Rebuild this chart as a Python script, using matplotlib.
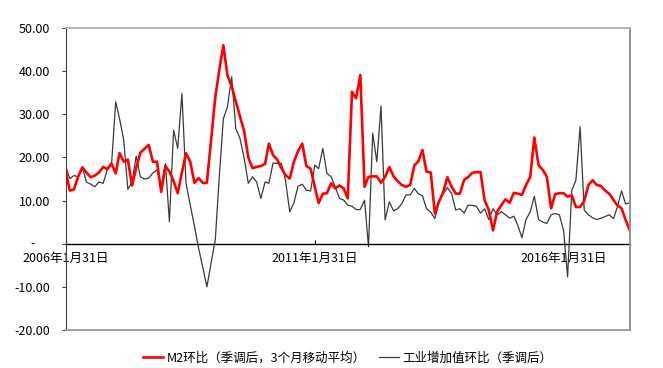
import matplotlib
matplotlib.use("Agg")
import matplotlib.pyplot as plt
import matplotlib.dates as mdates
import matplotlib.transforms as mtransforms
import numpy as np
import pandas as pd

plt.rcParams['font.family'] = ['Noto Sans CJK SC', 'DejaVu Sans']

# -----------------------------
# DATA (monthly, month-end)
# -----------------------------
dates = pd.date_range("2006-01-31", periods=137, freq="ME")

m2_mom = [
    16.5, 12.3, 12.6, 15.5, 17.7, 16.5, 15.4, 15.8, 16.5, 17.8,
    17.3, 18.6, 16.3, 21.0, 19.0, 19.5, 13.5, 17.5, 21.1, 22.0,
    22.9, 19.0, 19.0, 12.0, 18.0, 16.7, 14.5, 11.7, 16.5, 21.0,
    19.0, 14.1, 15.2, 14.1, 14.1, 24.0, 34.0, 40.0, 46.0, 39.0,
    36.5, 33.0, 29.5, 26.0, 20.0, 17.5, 17.8, 18.0, 18.5, 23.2,
    20.5, 19.5, 17.5, 15.9, 15.1, 19.0, 21.5, 23.2, 18.0, 17.4,
    13.2, 9.4, 11.6, 11.7, 14.0, 12.8, 13.5, 12.8, 10.5, 35.2,
    33.7, 39.1, 13.2, 15.5, 15.6, 15.6, 14.1, 15.5, 17.8, 15.6,
    14.5, 13.6, 13.2, 13.6, 18.2, 19.0, 21.7, 16.7, 16.5, 7.0,
    9.8, 12.0, 15.4, 13.2, 11.6, 11.6, 14.8, 15.4, 16.4, 16.6,
    16.6, 10.1, 7.8, 3.1, 7.4, 8.9, 10.3, 9.5, 11.8, 11.6,
    11.3, 13.6, 15.5, 24.6, 18.2, 17.1, 15.5, 8.2, 11.5, 11.7,
    11.7, 10.9, 11.2, 8.5, 8.5, 9.9, 13.6, 14.7, 13.6, 13.4,
    12.3, 11.6, 10.1, 8.9, 8.2, 5.5, 3.1,
]

ind_mom = [
    17.7, 15.1, 15.8, 15.5, 17.8, 14.3, 13.8, 13.2, 14.3, 14.0,
    17.1, 18.2, 32.9, 29.0, 24.0, 12.6, 14.3, 20.3, 15.5, 15.0,
    15.2, 16.4, 17.1, 13.2, 18.6, 5.1, 26.3, 22.1, 34.8, 14.0,
    9.0, 4.0, -1.0, -5.5, -10.0, -4.5, 1.0, 15.0, 29.0, 31.7,
    38.7, 26.7, 24.4, 19.8, 14.0, 15.5, 14.3, 10.5, 14.3, 14.0,
    18.7, 18.6, 18.6, 14.7, 7.4, 9.5, 13.3, 13.8, 12.4, 12.2,
    18.2, 17.4, 22.1, 16.3, 15.5, 13.2, 10.5, 10.1, 8.9, 8.7,
    7.9, 7.9, 10.1, -0.7, 25.6, 19.0, 31.9, 5.5, 9.7, 7.6,
    8.1, 9.3, 11.3, 11.3, 12.8, 11.6, 11.1, 8.1, 7.3, 5.8,
    9.9, 11.6, 13.0, 11.6, 7.8, 8.1, 7.1, 8.9, 8.9, 8.7,
    7.1, 8.1, 5.6, 8.1, 6.7, 7.4, 6.7, 5.9, 6.4, 4.3,
    1.4, 5.6, 7.4, 11.0, 5.6, 5.0, 4.7, 6.7, 7.0, 6.7,
    3.0, -7.7, 12.4, 14.7, 27.1, 7.8, 6.7, 6.0, 5.6, 5.9,
    6.3, 6.7, 5.8, 8.5, 12.2, 9.2, 9.5,
]

y_ticks = [-20, -10, 0, 10, 20, 30, 40, 50]
x_ticks = pd.to_datetime(["2006-01-31", "2011-01-31", "2016-01-31"])

label_m2 = "M2环比（季调后，3个月移动平均）"
label_ind = "工业增加值环比（季调后）"

# -----------------------------
# PLOT
# -----------------------------
fig = plt.figure(figsize=(6.63, 3.68), dpi=100)
ax = fig.add_axes([0.0995, 0.1033, 0.8505, 0.8207])

ax.plot(dates, m2_mom, color="#FF0000", lw=1.9, label=label_m2, zorder=3)
ax.plot(dates, ind_mom, color="#3A3A3A", lw=0.9, label=label_ind, zorder=2)

ax.set_xlim(dates[0], dates[-1])
ax.set_ylim(-20, 50)

# frame: gray box (top, right, bottom), dark left axis, black zero line
ax.spines["top"].set_color("#B0B0B0")
ax.spines["right"].set_color("#8C8C8C")
for side in ["top", "right"]:
    ax.spines[side].set_linewidth(1.3)
    ax.spines[side].set_zorder(6)
ax.spines["left"].set_color("#404040")
ax.spines["bottom"].set_position(("data", 0))
ax.spines["bottom"].set_color("black")
ax.spines["bottom"].set_linewidth(1.0)
ax.axhline(-20, color="#9A9A9A", lw=1.3, clip_on=False, zorder=6)

# y axis
ax.set_yticks(y_ticks)
ax.set_yticklabels([f"{v:.2f}" if v != 0 else "" for v in y_ticks])
ax.tick_params(axis="y", direction="out", length=3, width=0.8,
               color="#404040", pad=8.5, labelsize=9)
trans = mtransforms.blended_transform_factory(fig.transFigure, ax.transData)
ax.text(33 / 663, 0, "-", transform=trans, ha="center", va="center", fontsize=9)

# x axis
ax.set_xticks(x_ticks)
ax.xaxis.set_major_formatter(mdates.DateFormatter("%Y年%-m月%d日"))
ax.tick_params(axis="x", direction="in", length=3, width=0.8, pad=6, labelsize=9)

ax.legend(loc="center", bbox_to_anchor=(0.5, -0.093), ncol=2, frameon=False,
          fontsize=9, handlelength=1.6, handletextpad=0.3, columnspacing=1.0)

fig.savefig("out.png", dpi=100, facecolor="white")
